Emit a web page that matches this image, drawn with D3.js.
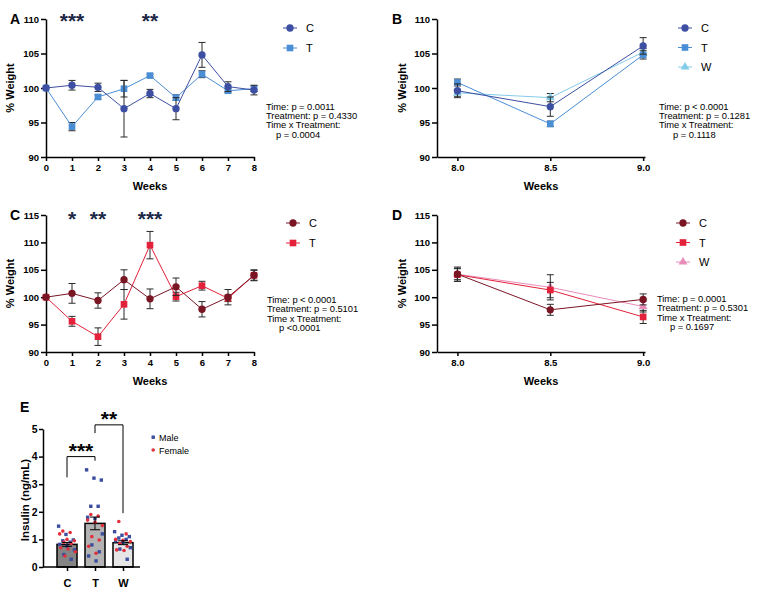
<!DOCTYPE html>
<html>
<head>
<meta charset="utf-8">
<script src="https://cdn.jsdelivr.net/npm/d3@7"></script>
<style>
  body { margin: 0; background: #fff; }
  svg { display: block; }
  text { font-family: "Liberation Sans", Arial, sans-serif; }
</style>
</head>
<body>
<div id="chart"></div>
<script>
// ---- data ----
const weeks = [0, 1, 2, 3, 4, 5, 6, 7, 8];
const aC = [100, 100.4, 100.1, 97.0, 99.2, 97.0, 104.8, 100.2, 99.7];
const aCErr = [0, 0.7, 0.6, 4.1, 0.6, 1.6, 1.8, 0.7, 0.7];
const aT = [100, 94.4, 98.7, 99.9, 101.8, 98.6, 102.0, 99.6, 99.9];
const aTErr = [0, 0.6, 0.3, 1.2, 0.2, 0.4, 0.5, 0.3, 0.4];

const recovery = [8.0, 8.5, 9.0];
const bC = [99.6, 97.3, 106.1];
const bCErr = [1.0, 1.4, 1.2];
const bT = [100.8, 94.8, 104.8];
const bTErr = [0.5, 0.4, 0.6];
const bW = [99.3, 98.6, 105.2];
const bWErr = [0.5, 0.6, 0.5];

const cC = [100, 100.7, 99.4, 103.2, 99.7, 101.9, 97.8, 100.0, 104.0];
const cCErr = [0, 1.8, 1.4, 1.8, 1.8, 1.6, 1.4, 1.4, 0.9];
const cT = [100, 95.6, 92.8, 98.7, 109.5, 100.1, 102.1, 99.8, 104.0];
const cTErr = [0, 0.9, 1.6, 2.7, 2.5, 0.8, 0.8, 0.6, 1.0];

const dC = [104.2, 97.7, 99.6];
const dCErr = [1.3, 1.0, 1.0];
const dT = [104.1, 101.3, 96.4];
const dTErr = [1.2, 1.4, 1.2];
const dW = [104.2, 101.8, 98.3];
const dWErr = [1.0, 2.3, 1.0];

const statsA = ["Time: p = 0.0011", "Treatment: p = 0.4330", "Time x Treatment:", "p = 0.0004"];
const statsB = ["Time: p < 0.0001", "Treatment: p = 0.1281", "Time x Treatment:", "p = 0.1118"];
const statsC = ["Time: p < 0.0001", "Treatment: p = 0.5101", "Time x Treatment:", "p <0.0001"];
const statsD = ["Time: p = 0.0001", "Treatment: p = 0.5301", "Time x Treatment:", "p = 0.1697"];

const groups = ["C", "T", "W"];
const insulinMean = [0.82, 1.58, 0.88];
const insulinSem = [0.07, 0.23, 0.07];
const maleC = [1.48, 1.18, 0.98, 0.95, 0.9, 0.82, 0.75, 0.62, 0.45, 0.28];
const femaleC = [1.3, 1.25, 1.2, 1.0, 0.95, 0.9, 0.85, 0.7, 0.65, 0.55, 0.4];
const maleT = [3.52, 3.22, 3.15, 2.2, 2.2, 1.8, 1.75, 1.2, 0.8, 0.55, 0.4, 0.22];
const femaleT = [1.9, 1.85, 1.7, 1.62, 1.5, 1.1, 0.98, 0.75, 0.5];
const maleW = [1.28, 1.15, 1.1, 1.05, 1.0, 0.95, 0.9, 0.7, 0.65, 0.28];
const femaleW = [1.65, 1.2, 1.0, 0.97, 0.92, 0.85, 0.75, 0.62, 0.6];

// ---- colours ----
const blueDark = "#3d4fa3", blueMid = "#4a8ed6", blueLight = "#82cbe9";
const redDark = "#7a1624", redMid = "#e3213a", pink = "#e98bb8";
const starColor = "#1b2745";

const svg = d3.select("#chart").append("svg")
  .attr("width", 760).attr("height", 595)
  .style("background", "#fff");

// marker shapes
const shapes = { circle: d3.symbolCircle, square: d3.symbolSquare, triangle: d3.symbolTriangle };
const shapeSize = { circle: 42, square: 44, triangle: 34 };

function styleAxis(g, size) {
  g.selectAll("path, line").attr("stroke", "#000").attr("stroke-width", 1.5);
  g.selectAll("text").attr("font-size", size).attr("font-weight", "bold").attr("fill", "#000")
    .attr("font-family", '"Liberation Sans", Arial, sans-serif');
}

function drawPanel(cfg) {
  const x = d3.scaleLinear().domain(cfg.xDomain).range(cfg.xRange);
  const y = d3.scaleLinear().domain(cfg.yDomain).range(cfg.yRange);
  const g = svg.append("g");

  // axes
  const ya = g.append("g").attr("transform", `translate(${cfg.xRange[0]},0)`)
    .call(d3.axisLeft(y).tickValues(cfg.yTicks).tickSize(5).tickSizeOuter(0).tickPadding(2)
      .tickFormat(d3.format("d")));
  styleAxis(ya, 9.5);
  const xa = g.append("g").attr("transform", `translate(0,${cfg.yRange[0]})`)
    .call(d3.axisBottom(x).tickValues(cfg.xTicks).tickSize(4).tickSizeOuter(0).tickPadding(3)
      .tickFormat(cfg.xFormat));
  styleAxis(xa, 9.5);

  // labels
  const ymid = (cfg.yRange[0] + cfg.yRange[1]) / 2;
  g.append("text").attr("transform", `translate(${cfg.yLabelX},${ymid}) rotate(-90)`)
    .attr("text-anchor", "middle").attr("font-size", 11).attr("font-weight", "bold").text("% Weight");
  g.append("text").attr("x", (cfg.xRange[0] + cfg.xRange[1]) / 2).attr("y", cfg.yRange[0] + 33)
    .attr("text-anchor", "middle").attr("font-size", 11).attr("font-weight", "bold").text("Weeks");
  g.append("text").attr("x", cfg.letterX).attr("y", cfg.yRange[1] + 5)
    .attr("font-size", 14).attr("font-weight", "bold").text(cfg.letter);

  // series: draw in reverse so first series sits on top
  const line = d3.line().x(d => x(d[0])).y(d => y(d[1]));
  cfg.series.slice().reverse().forEach(s => {
    const pts = cfg.xs.map((xv, i) => [xv, s.values[i], s.err[i]]);
    g.append("g").selectAll("g").data(pts.filter(p => p[2] > 0)).join("g")
      .each(function (p) {
        const e = d3.select(this);
        const cx = x(p[0]);
        e.append("line").attr("x1", cx).attr("x2", cx).attr("y1", y(p[1] - p[2])).attr("y2", y(p[1] + p[2]));
        [p[1] - p[2], p[1] + p[2]].forEach(v =>
          e.append("line").attr("x1", cx - 3.5).attr("x2", cx + 3.5).attr("y1", y(v)).attr("y2", y(v)));
      })
      .selectAll("line").attr("stroke", "#2a2a2a").attr("stroke-width", 1);
    g.append("path").datum(pts).attr("d", line).attr("fill", "none")
      .attr("stroke", s.color).attr("stroke-width", 1);
    g.append("g").selectAll("path").data(pts).join("path")
      .attr("transform", p => `translate(${x(p[0])},${y(p[1])})`)
      .attr("d", d3.symbol(shapes[s.shape], shapeSize[s.shape]))
      .attr("fill", s.color);
  });

  // significance stars
  (cfg.stars || []).forEach(st => {
    g.append("text").attr("x", x(st.at)).attr("y", cfg.starY).attr("text-anchor", "middle")
      .attr("font-size", 21).attr("font-weight", "bold").attr("fill", starColor).text(st.label);
  });

  // legend
  cfg.series.forEach((s, i) => {
    const ly = cfg.legendY + i * cfg.legendStep;
    g.append("line").attr("x1", cfg.legendX - 7).attr("x2", cfg.legendX + 7)
      .attr("y1", ly).attr("y2", ly).attr("stroke", s.color).attr("stroke-width", 1);
    g.append("path").attr("transform", `translate(${cfg.legendX},${ly})`)
      .attr("d", d3.symbol(shapes[s.shape], shapeSize[s.shape])).attr("fill", s.color);
    g.append("text").attr("x", cfg.legendX + 16).attr("y", ly + 4).attr("font-size", 11).text(s.name);
  });

  // stats
  cfg.stats.forEach((t, i) => {
    g.append("text").attr("x", i === 3 ? cfg.statsX + cfg.indent : cfg.statsX)
      .attr("y", cfg.statsY + i * 9.4).attr("font-size", 9.4).attr("letter-spacing", -0.05).text(t);
  });
}

const fmt0 = d3.format("d"), fmt1 = d3.format(".1f");

drawPanel({
  letter: "A", letterX: 10, xDomain: [0, 8], xRange: [46, 254], yDomain: [90, 110], yRange: [157, 19],
  yTicks: [90, 95, 100, 105, 110], xTicks: weeks, xFormat: fmt0, xs: weeks, yLabelX: 14,
  series: [
    { name: "C", values: aC, err: aCErr, color: blueDark, shape: "circle" },
    { name: "T", values: aT, err: aTErr, color: blueMid, shape: "square" }
  ],
  stars: [{ at: 1, label: "***" }, { at: 4, label: "**" }], starY: 28,
  legendX: 290, legendY: 28, legendStep: 20,
  stats: statsA, statsX: 266, statsY: 109.5, indent: 10
});

drawPanel({
  letter: "B", letterX: 392, xDomain: [7.89, 9.01], xRange: [437, 645], yDomain: [90, 110], yRange: [157, 19],
  yTicks: [90, 95, 100, 105, 110], xTicks: recovery, xFormat: fmt1, xs: recovery, yLabelX: 406,
  series: [
    { name: "C", values: bC, err: bCErr, color: blueDark, shape: "circle" },
    { name: "T", values: bT, err: bTErr, color: blueMid, shape: "square" },
    { name: "W", values: bW, err: bWErr, color: blueLight, shape: "triangle" }
  ],
  legendX: 685, legendY: 28, legendStep: 19.5,
  stats: statsB, statsX: 659, statsY: 109.5, indent: 14
});

drawPanel({
  letter: "C", letterX: 10, xDomain: [0, 8], xRange: [46, 254], yDomain: [90, 115], yRange: [352, 215],
  yTicks: [90, 95, 100, 105, 110, 115], xTicks: weeks, xFormat: fmt0, xs: weeks, yLabelX: 14,
  series: [
    { name: "C", values: cC, err: cCErr, color: redDark, shape: "circle" },
    { name: "T", values: cT, err: cTErr, color: redMid, shape: "square" }
  ],
  stars: [{ at: 1, label: "*" }, { at: 2, label: "**" }, { at: 4, label: "***" }], starY: 226,
  legendX: 293, legendY: 223, legendStep: 20,
  stats: statsC, statsX: 267, statsY: 303, indent: 12
});

drawPanel({
  letter: "D", letterX: 392, xDomain: [7.89, 9.01], xRange: [437, 645], yDomain: [90, 115], yRange: [352, 215],
  yTicks: [90, 95, 100, 105, 110, 115], xTicks: recovery, xFormat: fmt1, xs: recovery, yLabelX: 406,
  series: [
    { name: "C", values: dC, err: dCErr, color: redDark, shape: "circle" },
    { name: "T", values: dT, err: dTErr, color: redMid, shape: "square" },
    { name: "W", values: dW, err: dWErr, color: pink, shape: "triangle" }
  ],
  legendX: 683, legendY: 223, legendStep: 19.5,
  stats: statsD, statsX: 657, statsY: 302, indent: 13
});

// ---- panel E: insulin bars ----
(function () {
  const g = svg.append("g");
  const x = d3.scalePoint().domain(groups).range([67, 123]);
  const y = d3.scaleLinear().domain([0, 5]).range([567, 429]);
  const barW = 20;
  const fills = ["#858585", "#b3b3b3", "#e6e6e6"];

  g.selectAll("rect.bar").data(groups).join("rect").attr("class", "bar")
    .attr("x", d => x(d) - barW / 2).attr("width", barW)
    .attr("y", (d, i) => y(insulinMean[i])).attr("height", (d, i) => y(0) - y(insulinMean[i]))
    .attr("fill", (d, i) => fills[i]).attr("stroke", "#000").attr("stroke-width", 1.5);

  // dots, spread deterministically across the bar
  const sets = [[maleC, femaleC], [maleT, femaleT], [maleW, femaleW]];
  sets.forEach((pair, gi) => {
    pair.forEach((vals, si) => {
      vals.forEach((v, i) => {
        const off = (((i * 7 + si * 4) % 17) - 8) * 1.05;
        const cx = x(groups[gi]) + off, cy = y(v);
        if (si === 0) {
          g.append("rect").attr("x", cx - 1.7).attr("y", cy - 1.7).attr("width", 3.4).attr("height", 3.4)
            .attr("fill", "#3a4d9e");
        } else {
          g.append("circle").attr("cx", cx).attr("cy", cy).attr("r", 1.8).attr("fill", "#e1303c");
        }
      });
    });
  });

  // error bars (SEM)
  groups.forEach((d, i) => {
    const cx = x(d);
    const lo = y(insulinMean[i] - insulinSem[i]), hi = y(insulinMean[i] + insulinSem[i]);
    g.append("line").attr("x1", cx).attr("x2", cx).attr("y1", lo).attr("y2", hi).attr("stroke", "#000");
    [lo, hi].forEach(yy => g.append("line").attr("x1", cx - 5).attr("x2", cx + 5)
      .attr("y1", yy).attr("y2", yy).attr("stroke", "#000"));
  });

  // axes
  const ya = g.append("g").attr("transform", "translate(43,0)")
    .call(d3.axisLeft(y).tickValues([0, 1, 2, 3, 4, 5]).tickSize(4).tickSizeOuter(0).tickPadding(1.5)
      .tickFormat(d3.format("d")));
  styleAxis(ya, 10.5);
  const xa = g.append("g").attr("transform", `translate(0,${y(0)})`)
    .call(d3.axisBottom(x).tickSize(4).tickPadding(8));
  xa.select(".domain").remove();
  styleAxis(xa, 11);
  g.append("line").attr("x1", 43).attr("x2", 140).attr("y1", y(0)).attr("y2", y(0))
    .attr("stroke", "#000").attr("stroke-width", 1.5);

  g.append("text").attr("transform", "translate(29,500) rotate(-90)").attr("text-anchor", "middle")
    .attr("font-size", 11.5).attr("font-weight", "bold").text("Insulin (ng/mL)");
  g.append("text").attr("x", 20).attr("y", 412).attr("font-size", 14).attr("font-weight", "bold").text("E");

  // significance brackets
  const brackets = [
    { a: "C", b: "T", top: 4.0, legA: 3.25, legB: 3.85, label: "***" },
    { a: "T", b: "W", top: 5.15, legA: 4.85, legB: 1.95, label: "**" }
  ];
  brackets.forEach(br => {
    const xa1 = x(br.a), xb1 = x(br.b);
    g.append("path")
      .attr("d", `M${xa1},${y(br.legA)}V${y(br.top)}H${xb1}V${y(br.legB)}`)
      .attr("fill", "none").attr("stroke", "#000").attr("stroke-width", 1);
    g.append("text").attr("x", (xa1 + xb1) / 2).attr("y", y(br.top) + 1).attr("text-anchor", "middle")
      .attr("font-size", 21).attr("font-weight", "bold").attr("fill", "#000").text(br.label);
  });

  // legend
  g.append("rect").attr("x", 151.5).attr("y", 435.5).attr("width", 3.4).attr("height", 3.4).attr("fill", "#3a4d9e");
  g.append("text").attr("x", 159).attr("y", 440.5).attr("font-size", 9).text("Male");
  g.append("circle").attr("cx", 153.2).attr("cy", 450).attr("r", 1.8).attr("fill", "#e1303c");
  g.append("text").attr("x", 159).attr("y", 453.5).attr("font-size", 9).text("Female");
})();
</script>
</body>
</html>
